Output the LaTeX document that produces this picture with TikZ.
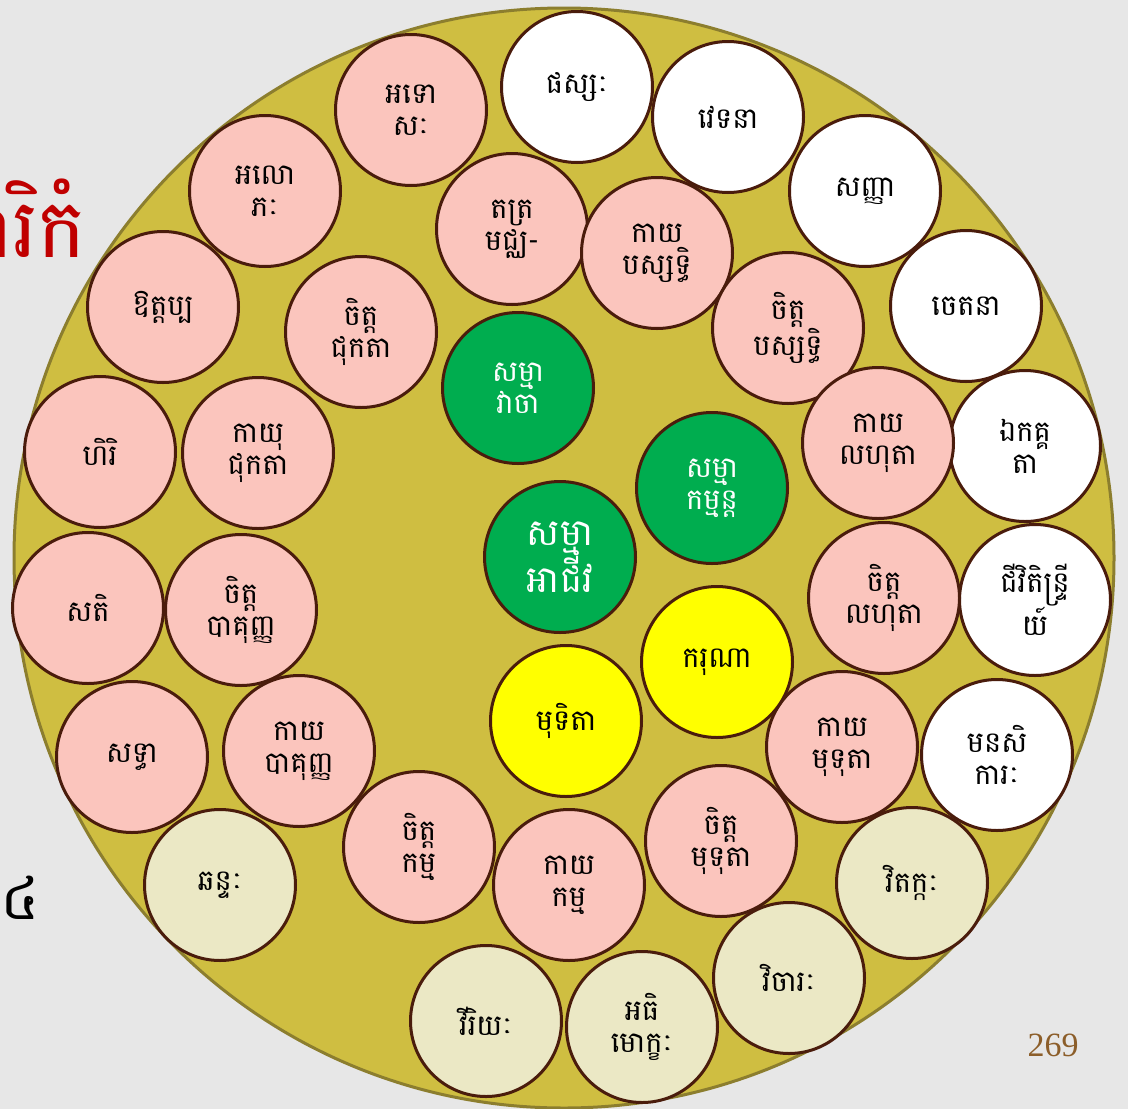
\documentclass[tikz,border=0pt]{standalone}
\usepackage{fontspec}
\newfontfamily\kh[Script=Khmer]{Battambang}
\newfontfamily\numfont{Liberation Serif}
\definecolor{bgc}{HTML}{E7E7E7}
\definecolor{bigc}{HTML}{CFBE41}
\definecolor{bigb}{HTML}{8C7E2E}
\definecolor{bord}{HTML}{4A1C0C}
\definecolor{pinkc}{HTML}{FBC5BD}
\definecolor{creamc}{HTML}{EBE8C5}
\definecolor{greenc}{HTML}{00AD4F}
\definecolor{yellowc}{HTML}{FFFF00}
\definecolor{titlec}{HTML}{C00000}
\definecolor{numc}{HTML}{8C5E2A}
\tikzset{
  bub/.style={circle, draw=bord, line width=3pt, minimum size=151pt, inner sep=0pt,
    align=center, font=\kh\fontsize{29}{32}\selectfont, text=black},
  pk/.style={bub, fill=pinkc},
  wh/.style={bub, fill=white},
  cr/.style={bub, fill=creamc},
  gr/.style={bub, fill=greenc, text=white},
  yl/.style={bub, fill=yellowc},
}
\begin{document}
\begin{tikzpicture}[x=1pt,y=-1pt]
\useasboundingbox (0,0) rectangle (1128,1109);
\fill[bgc] (0,0) rectangle (1128,1109);
\node[anchor=east, text=titlec, font=\kh\fontsize{82}{90}\selectfont, inner sep=0pt] (title) at (87,218) {ការិកំ};
\node[anchor=east, text=black, font=\kh\fontsize{60}{70}\selectfont, inner sep=0pt] (four) at (40,898) {៤};
\node[circle, fill=bigc, draw=bigb, line width=3pt, minimum size=1100pt, inner sep=0pt] (big) at (564,558) {};
% outer ring
\node[pk] (adosa) at (411,110) {អទោ\\សៈ};
\node[wh] (phassa) at (577,87) {ផស្សៈ};
\node[wh] (vedana) at (728,117) {វេទនា};
\node[wh] (sanna) at (865,191) {សញ្ញា};
\node[wh] (cetana) at (966,306) {ចេតនា};
\node[wh] (ekagga) at (1025,446) {ឯកគ្គ\\តា};
\node[wh] (jivit) at (1035,600) {ជីវិតិន្ទ្រី\\យ៍};
\node[wh] (manasi) at (997,755) {មនសិ\\ការៈ};
\node[cr] (vitakka) at (912,883) {វិតក្កៈ};
\node[cr] (vicara) at (789,978) {វិចារៈ};
\node[cr] (adhi) at (642,1027) {អធិ\\មោក្ខៈ};
\node[cr] (viriya) at (486,1021) {វីរិយៈ};
\node[cr] (chanda) at (220,885) {ឆន្ទៈ};
\node[pk] (saddha) at (132,757) {សទ្ធា};
\node[pk] (sati) at (88,608) {សតិ};
\node[pk] (hiri) at (100,452) {ហិរិ};
\node[pk] (ottappa) at (163,307) {ឱត្តប្ប};
\node[pk] (alobha) at (265,191) {អលោ\\ភៈ};
% inner ring
\node[pk] (tatra) at (512,229) {តត្រ\\មជ្ឈ-};
\node[pk] (kpass) at (657,253) {កាយ\\បស្សទ្ធិ};
\node[pk] (cpass) at (788,328) {ចិត្ត\\បស្សទ្ធិ};
\node[pk] (klahu) at (878,443) {កាយ\\លហុតា};
\node[pk] (clahu) at (884,598) {ចិត្ត\\លហុតា};
\node[pk] (kmudu) at (842,747) {កាយ\\មុទុតា};
\node[pk] (cmudu) at (721,841) {ចិត្ត\\មុទុតា};
\node[pk] (kkam) at (569,885) {កាយ\\កម្ម};
\node[pk] (ckam) at (419,847) {ចិត្ត\\កម្ម};
\node[pk] (kpag) at (299,751) {កាយ\\បាគុញ្ញ};
\node[pk] (cpag) at (241,610) {ចិត្ត\\បាគុញ្ញ};
\node[pk] (kuju) at (258,453) {កាយុ\\ជុកតា};
\node[pk] (cuju) at (361,332) {ចិត្ត\\ជុកតា};
% centre
\node[gr] (vaca) at (518,388) {សម្មា\\វាចា};
\node[gr] (kamm) at (712,488) {សម្មា\\កម្មន្ត};
\node[gr, font=\kh\fontsize{37}{40}\selectfont] (ajiva) at (560,557) {សម្មា\\អាជីវ};
\node[yl] (karuna) at (717,662) {ករុណា};
\node[yl] (mudita) at (566,721) {មុទិតា};
\node[text=numc, font=\numfont\fontsize{34}{40}\selectfont, inner sep=0pt] (page) at (1053,1045) {269};
\end{tikzpicture}
\end{document}
